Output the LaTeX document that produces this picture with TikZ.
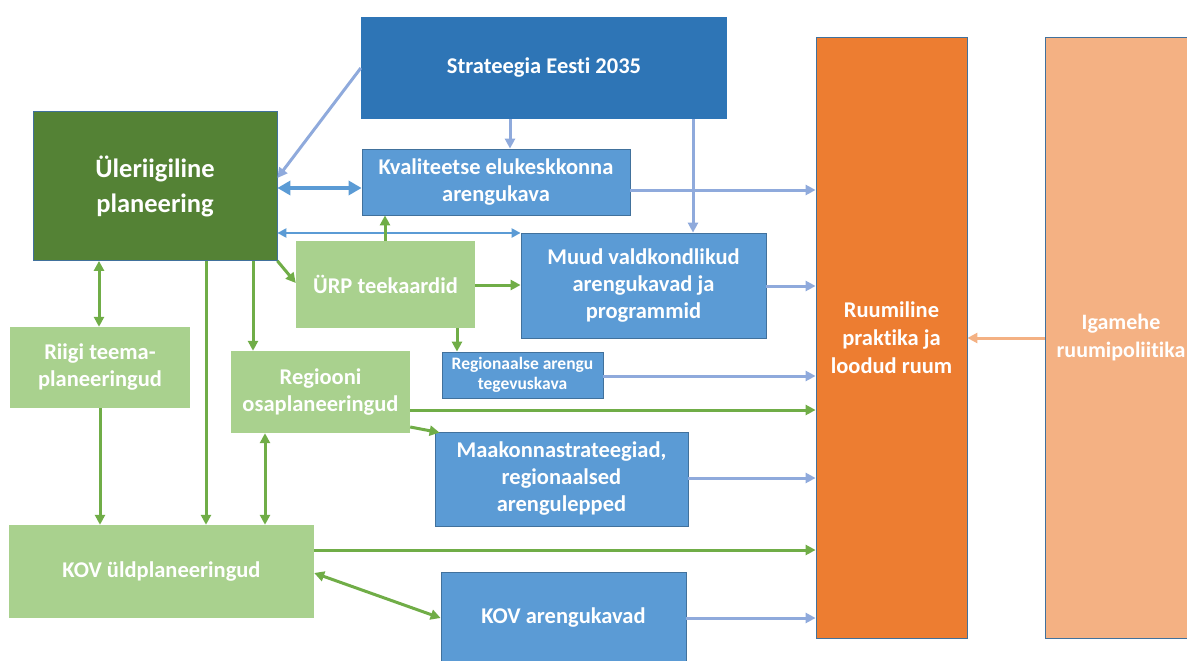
\documentclass[tikz,border=0pt]{standalone}
\usepackage{fontspec}
\setmainfont{Carlito}[Ligatures=NoCommon]
\usetikzlibrary{arrows.meta,calc}
\definecolor{dblue}{HTML}{2E75B6}
\definecolor{mblue}{HTML}{5B9BD5}
\definecolor{bord}{HTML}{41719C}
\definecolor{lblue}{HTML}{8FAADC}
\definecolor{dgreen}{HTML}{548235}
\definecolor{lgreen}{HTML}{A9D18E}
\definecolor{agreen}{HTML}{70AD47}
\definecolor{orng}{HTML}{ED7D31}
\definecolor{peach}{HTML}{F4B183}
\tikzset{
  box/.style={rectangle, inner sep=0pt, align=center, text=white,
    font=\bfseries\fontsize{22.5}{27}\selectfont},
  bluebox/.style={box, fill=mblue, draw=bord, line width=0.8pt},
  greenbox/.style={box, fill=lgreen},
  garrow/.style={draw=agreen, line width=3pt, -{Triangle[length=10pt,width=10pt]}},
  gdouble/.style={draw=agreen, line width=3pt, {Triangle[length=10pt,width=10pt]}-{Triangle[length=10pt,width=10pt]}},
  barrow/.style={draw=lblue, line width=3pt, -{Triangle[length=10pt,width=10pt]}},
  bthick/.style={draw=mblue, line width=4.5pt, {Triangle[length=13pt,width=14pt]}-{Triangle[length=13pt,width=14pt]}},
  bthin/.style={draw=mblue, line width=2.5pt, {Triangle[length=9pt,width=9pt]}-{Triangle[length=9pt,width=9pt]}},
  parrow/.style={draw=peach, line width=3pt, -{Triangle[length=10pt,width=10pt]}},
}
\begin{document}
\begin{tikzpicture}[x=1pt,y=-1pt]
\useasboundingbox (0,0) rectangle (1187,661);
% boxes
\node[box, fill=dblue, minimum width=366pt, minimum height=102pt] (strat) at (544,68) {Strateegia Eesti 2035};
\node[box, fill=dgreen, draw=bord, line width=0.8pt, minimum width=244pt, minimum height=149pt,
  font=\bfseries\fontsize{26.5}{35}\selectfont] (ule) at (155,186) {Üleriigiline\\planeering};
\node[bluebox, minimum width=268pt, minimum height=66pt] (kval) at (496,182) {Kvaliteetse elukeskkonna\\arengukava};
\node[bluebox, minimum width=245pt, minimum height=105pt] (muud) at (643.5,285.5) {Muud valdkondlikud\\arengukavad ja\\programmid};
\node[greenbox, minimum width=179pt, minimum height=87pt] (urp) at (385.5,284.5) {ÜRP teekaardid};
\node[bluebox, minimum width=161pt, minimum height=46pt,
  font=\bfseries\fontsize{17.5}{20}\selectfont] (regtk) at (522.5,375) {Regionaalse arengu\\tegevuskava};
\node[greenbox, minimum width=180pt, minimum height=81pt] (riigi) at (100,367.5) {Riigi teema-\\planeeringud};
\node[greenbox, minimum width=179pt, minimum height=82pt] (regio) at (320.5,392) {Regiooni\\osaplaneeringud};
\node[bluebox, minimum width=253pt, minimum height=94pt] (maak) at (561.5,479) {Maakonnastrateegiad,\\regionaalsed\\arengulepped};
\node[greenbox, minimum width=305pt, minimum height=93pt] (kovyld) at (161.5,571.5) {KOV üldplaneeringud};
\node[bluebox, minimum width=245pt, minimum height=92pt] (kovar) at (563.5,618) {KOV arengukavad};
\node[box, fill=orng, draw=bord, line width=0.8pt, minimum width=151pt, minimum height=601pt,
  font=\bfseries\fontsize{22.5}{28}\selectfont] (ruum) at (891.5,337.5) {Ruumiline\\praktika ja\\loodud ruum};
\node[box, fill=peach, draw=bord, line width=0.8pt, minimum width=152pt, minimum height=601pt,
  font=\bfseries\fontsize{22}{28}\selectfont] (igam) at (1121,337.5) {Igamehe\\ruumipoliitika};
% blue connectors
\draw[barrow] (strat.west) -- (ule.east |- 0,178);
\draw[barrow] (strat.south -| 510,0) -- (kval.north -| 510,0);
\draw[barrow] (strat.south -| 693,0) -- (muud.north -| 693,0);
\draw[bthick] (ule.east |- 0,188) -- (kval.west |- 0,188);
\draw[bthin] (ule.east |- 0,233) -- (muud.west |- 0,233);
\draw[barrow] (kval.east |- 0,190) -- (ruum.west |- 0,190);
\draw[barrow] (muud.east |- 0,286) -- (ruum.west |- 0,286);
\draw[barrow] (regtk.east |- 0,376) -- (ruum.west |- 0,376);
\draw[barrow] (maak.east |- 0,478) -- (ruum.west |- 0,478);
\draw[barrow] (kovar.east |- 0,618) -- (ruum.west |- 0,618);
\draw[parrow] (igam.west |- 0,338) -- (ruum.east |- 0,338);
% green connectors
\draw[garrow] (urp.north -| 385,0) -- (kval.south -| 385,0);
\draw[garrow] (ule.south east) -- (urp.west |- 0,283);
\draw[garrow] (urp.east |- 0,285) -- (muud.west |- 0,285);
\draw[garrow] (urp.south -| 457,0) -- (regtk.north -| 457,0);
\draw[garrow] (ule.south -| 253,0) -- (regio.north -| 253,0);
\draw[garrow] (ule.south -| 206,0) -- (kovyld.north -| 206,0);
\draw[gdouble] (ule.south -| 99,0) -- (riigi.north -| 99,0);
\draw[garrow] (riigi.south -| 100,0) -- (kovyld.north -| 100,0);
\draw[gdouble] (regio.south -| 265,0) -- (kovyld.north -| 265,0);
\draw[garrow] (regio.east |- 0,410) -- (ruum.west |- 0,410);
\draw[garrow] (regio.east |- 0,427) -- ($(maak.north west)+(5,1)$);
\draw[garrow] (kovyld.east |- 0,550) -- (ruum.west |- 0,550);
\draw[gdouble] (kovyld.east |- 0,573) -- (kovar.west |- 0,618);
\end{tikzpicture}
\end{document}
